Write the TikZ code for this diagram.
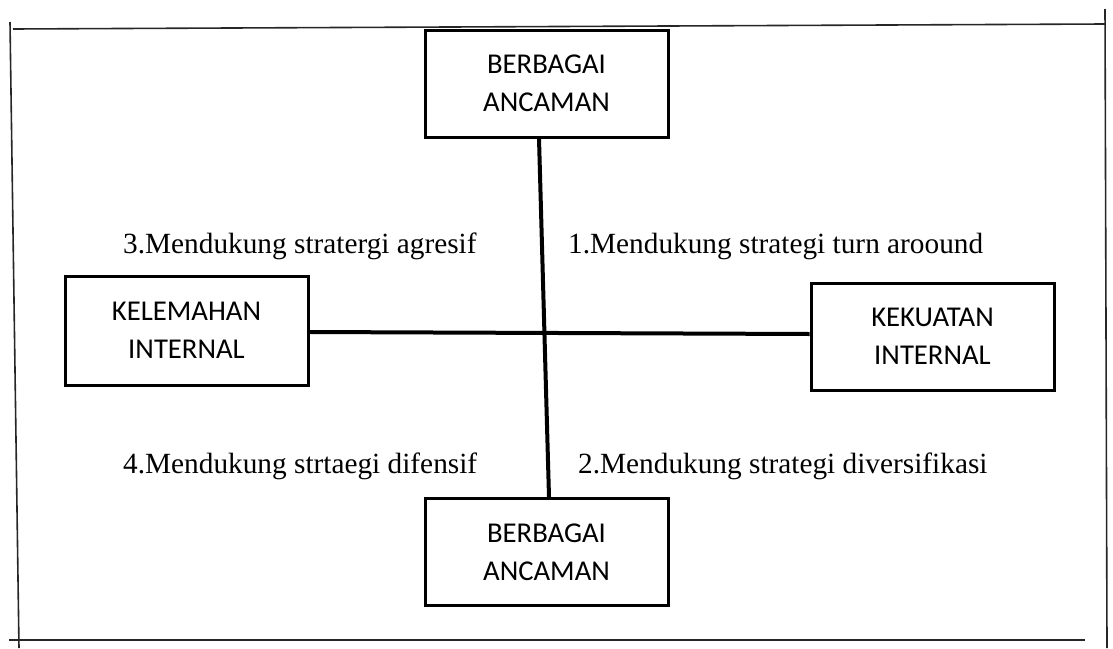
\documentclass[tikz,border=0pt]{standalone}
\usepackage{fontspec}
\setmainfont{Liberation Serif}
\newfontfamily\calfont{Carlito}
\usetikzlibrary{calc}
\begin{document}
\begin{tikzpicture}[x=1pt,y=-1pt,
  framel/.style={draw=black!85,line width=1.6pt},
  boxnode/.style={draw,line width=3pt,minimum width=243pt,minimum height=107pt,
    inner sep=0pt,align=center,font=\calfont\fontsize{28.7}{38}\selectfont},
  crossl/.style={line width=4pt},
  lbl/.style={anchor=base west,inner sep=0pt,font=\fontsize{29.3}{35}\selectfont}]
\useasboundingbox (0,0) rectangle (1113,648);
% frame
\coordinate (f1) at (13,29); \coordinate (f2) at (1105,24);
\coordinate (f3) at (1105,9); \coordinate (f4) at (1107,648);
\coordinate (f5) at (10,22); \coordinate (f6) at (19,648);
\coordinate (f7) at (9,640); \coordinate (f8) at (1085,640);
\draw[framel] (f1) -- (f2);
\draw[framel] (f3) -- (f4);
\draw[framel] (f5) -- (f6);
\draw[framel] (f7) -- (f8);
% boxes
\node[boxnode] (top) at (546.5,83.5) {BERBAGAI\\ANCAMAN};
\node[boxnode] (bot) at (546.5,552) {BERBAGAI\\ANCAMAN};
\node[boxnode,minimum height=109pt] (left) at (186.5,330.5) {KELEMAHAN\\INTERNAL};
\node[boxnode] (right) at (932.5,336.5) {KEKUATAN\\INTERNAL};
% cross
\draw[crossl] ([xshift=-7.5pt]top.south) -- ([xshift=2.5pt]bot.north);
\draw[crossl] ([yshift=-1.5pt]left.east) -- ([yshift=2.5pt]right.west);
% labels
\node[lbl] (l3) at (123,253) {3.Mendukung stratergi agresif};
\node[lbl] (l1) at (568,253) {1.Mendukung strategi turn aroound};
\node[lbl] (l4) at (123,473) {4.Mendukung strtaegi difensif};
\node[lbl] (l2) at (578,473) {2.Mendukung strategi diversifikasi};
\end{tikzpicture}
\end{document}
